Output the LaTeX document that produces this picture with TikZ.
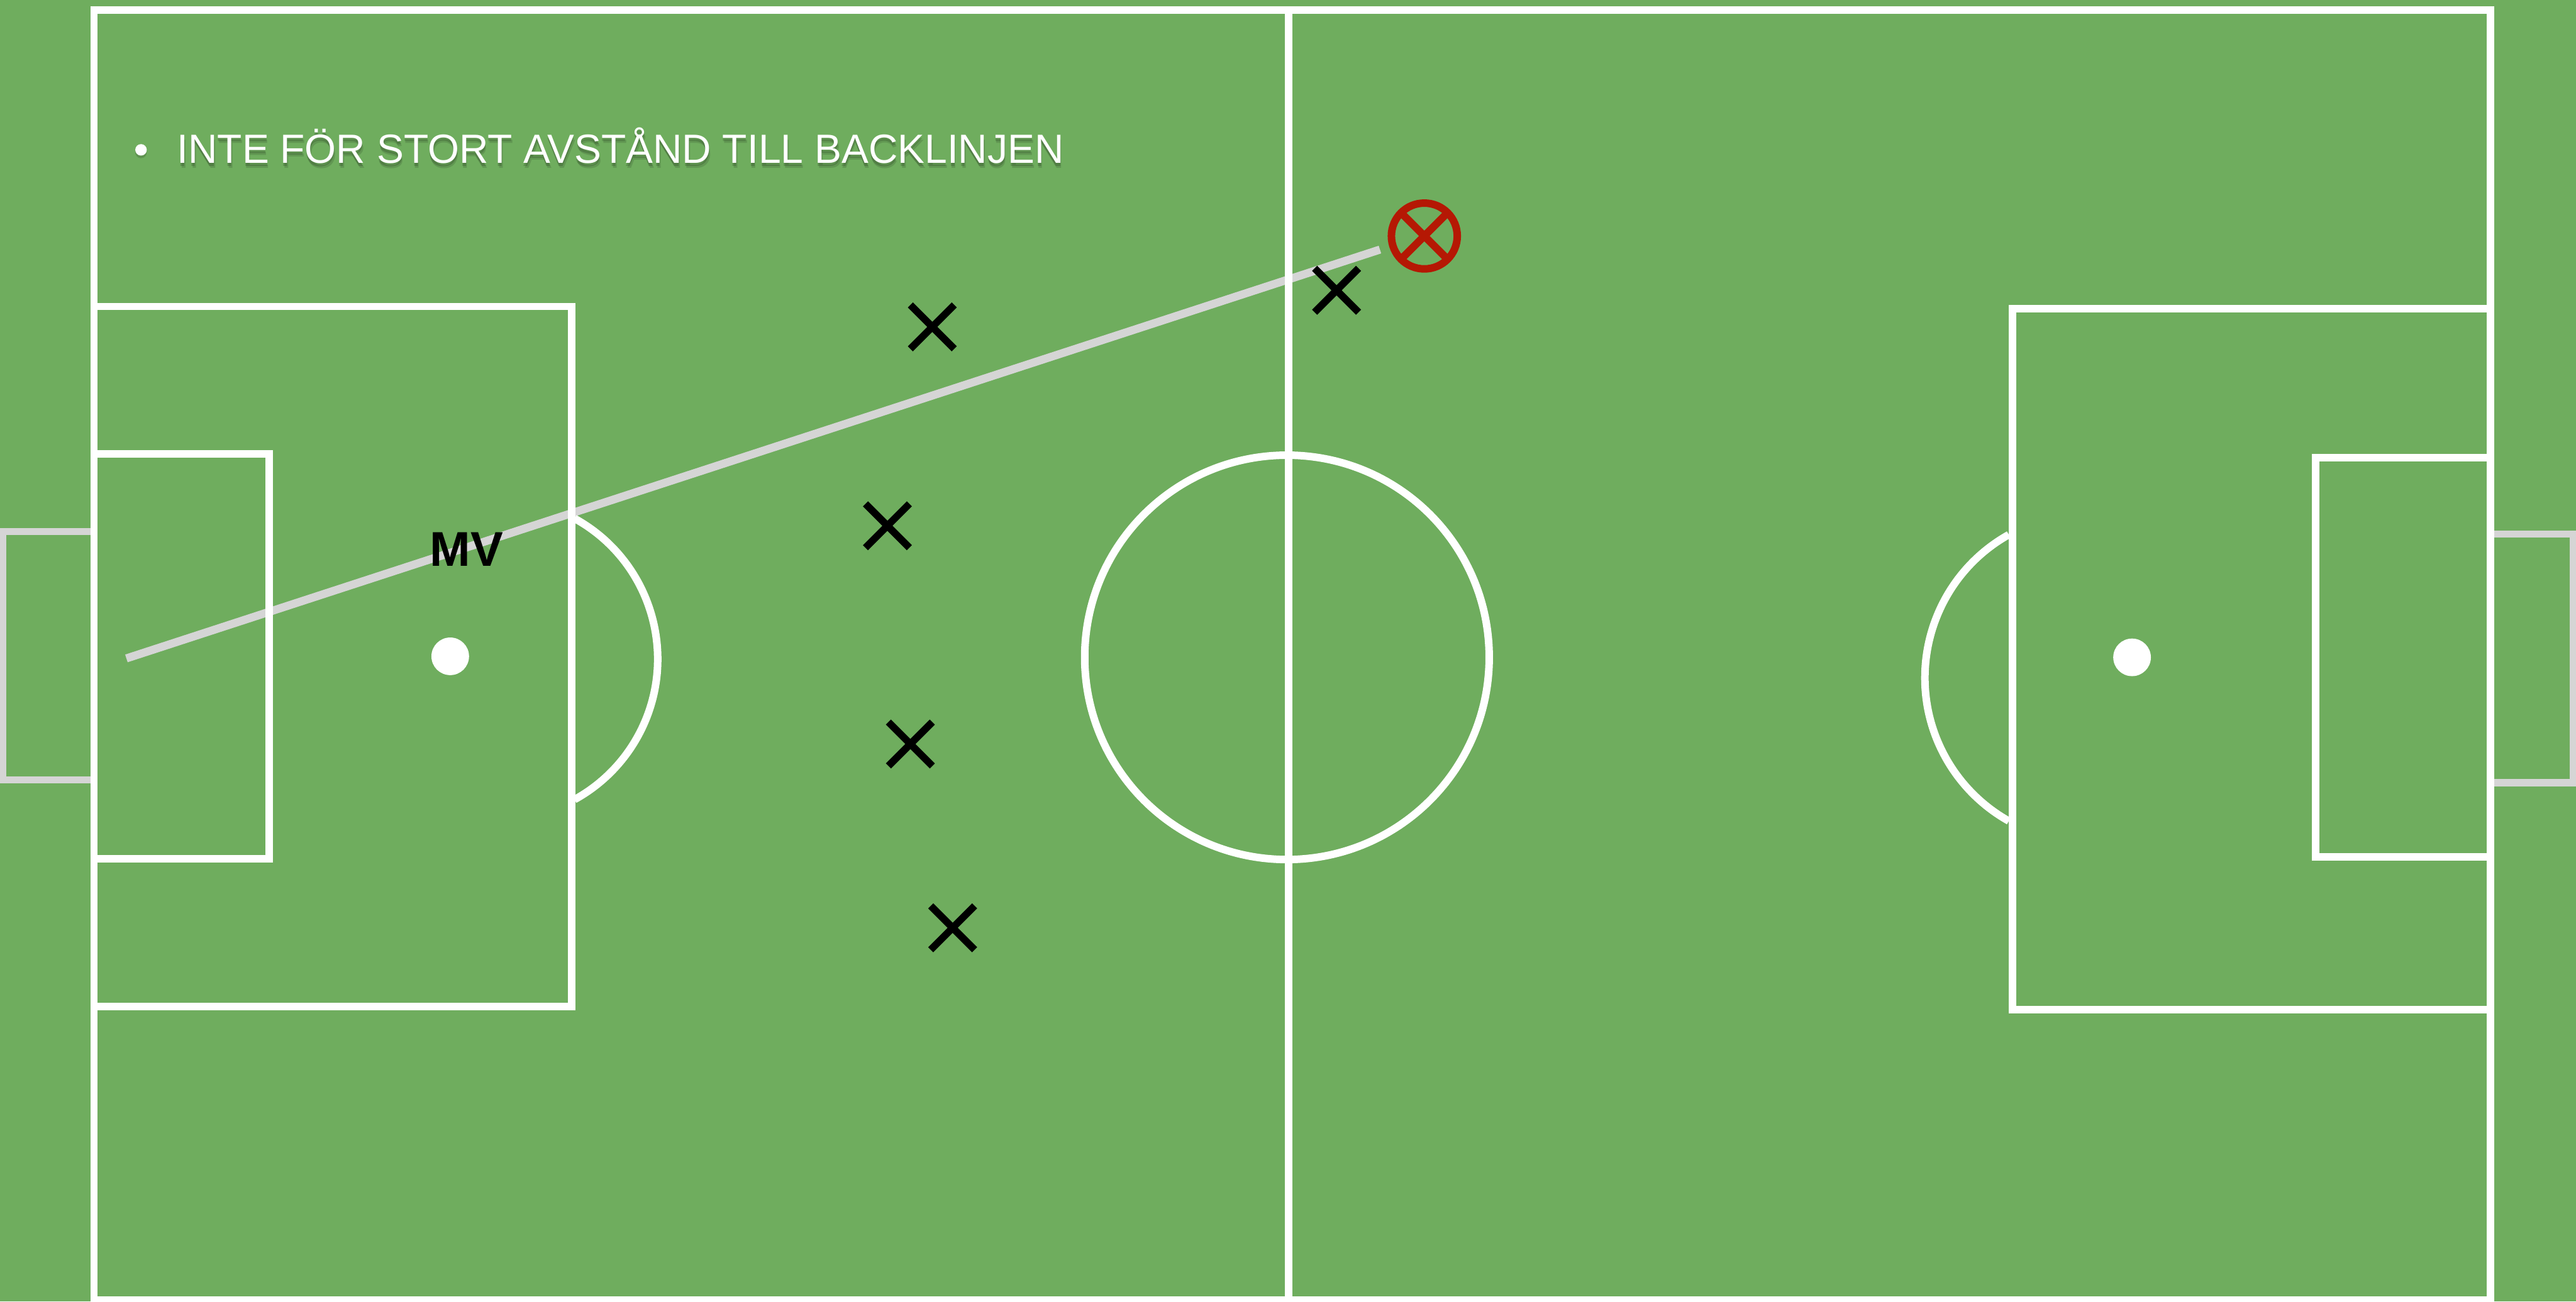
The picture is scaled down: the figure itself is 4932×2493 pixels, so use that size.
\documentclass[tikz,border=0pt]{standalone}
\usepackage{fontspec}
\setmainfont{Liberation Sans}
\usetikzlibrary{shapes.misc}
\definecolor{fieldgreen}{RGB}{111,173,94}
\definecolor{netgrey}{RGB}{213,213,213}
\definecolor{markred}{RGB}{181,24,4}
\newcommand\bannertext{\resizebox{16.97cm}{\height}{\fontsize{22.2pt}{26pt}\selectfont INTE FÖR STORT AVSTÅND TILL BACKLINJEN}}
\begin{document}
\begin{tikzpicture}[x=0.01cm,y=-0.01cm,
  pitch/.style={draw=white,line width=4.1pt,line join=miter},
  goalnet/.style={draw=netgrey,line width=3.9pt},
  runline/.style={draw=netgrey,line width=4.4pt},
  player/.style={cross out,draw=black,line width=3.9pt,minimum size=0.84cm,inner sep=0pt,outer sep=0pt},
  target/.style={circle,draw=markred,line width=4.1pt,minimum size=1.26cm,inner sep=0pt,outer sep=0pt},
  spot/.style={circle,fill=white,minimum size=0.72cm,inner sep=0pt},
  banner/.style={anchor=base west,inner sep=0pt,outer sep=0pt}]
\useasboundingbox (0,0) rectangle (4932,2493);
\fill[fieldgreen] (0,0) rectangle (4932,2493);
\begin{scope}
\clip (0,0) rectangle (4932,2493);
% goals (grey)
\draw[goalnet] (180,1018) -- (5,1018) -- (5,1494) -- (180,1494);
\draw[goalnet] (4768,1023) -- (4927,1023) -- (4927,1499) -- (4768,1499);
% run line
\coordinate (runA) at (242,1261);
\coordinate (runB) at (2642,478);
\draw[runline] (runA) -- (runB);
% pitch markings
\draw[pitch] (180,19) rectangle (4768,2490);
\draw[pitch] (2467,19) -- (2467,2490);
\draw[pitch] (2464,1259) circle[radius=3.87cm];
\draw[pitch] (180,587) -- (1094,587) -- (1094,1928) -- (180,1928);
\draw[pitch] (180,869) -- (515,869) -- (515,1645) -- (180,1645);
\draw[pitch] (4768,591) -- (3853,591) -- (3853,1934) -- (4768,1934);
\draw[pitch] (4768,877) -- (4433,877) -- (4433,1641) -- (4768,1641);
\draw[pitch] (1100,993) arc[start angle=61.2,end angle=-61.2,radius=3.07cm];
\draw[pitch] (3846,1024) arc[start angle=119.3,end angle=240.7,radius=3.143cm];
\end{scope}
\node[spot] (spotL) at (862,1257) {};
\node[spot] (spotR) at (4082,1259) {};
% players
\node[player] (p1) at (1785,626) {};
\node[player] (p2) at (1699,1007) {};
\node[player] (p3) at (1743,1425) {};
\node[player] (p4) at (1824,1777) {};
\node[player] (p5) at (2559,556) {};
% target
\node[target] (tgt) at (2727,452) {};
\draw[markred,line width=4.1pt] (tgt.45) -- (tgt.225) (tgt.135) -- (tgt.315);
% goalkeeper label
\node[anchor=base,inner sep=0pt,font=\bfseries\fontsize{26.6pt}{30pt}\selectfont] (mv) at (893,1084) {MV};
% banner with shadow
\node[banner,text=black,opacity=0.12] (shadow1) at (341,322) {\bannertext};
\node[banner,text=black,opacity=0.16] (shadow2) at (339,318) {\bannertext};
\node[circle,fill=black,opacity=0.15,minimum size=0.22cm,inner sep=0pt] (bulletshadow) at (270,292) {};
\node[circle,fill=white,minimum size=0.22cm,inner sep=0pt] (bullet) at (270,287) {};
\node[banner,text=white] (banner) at (339,313) {\bannertext};
\end{tikzpicture}
\end{document}
